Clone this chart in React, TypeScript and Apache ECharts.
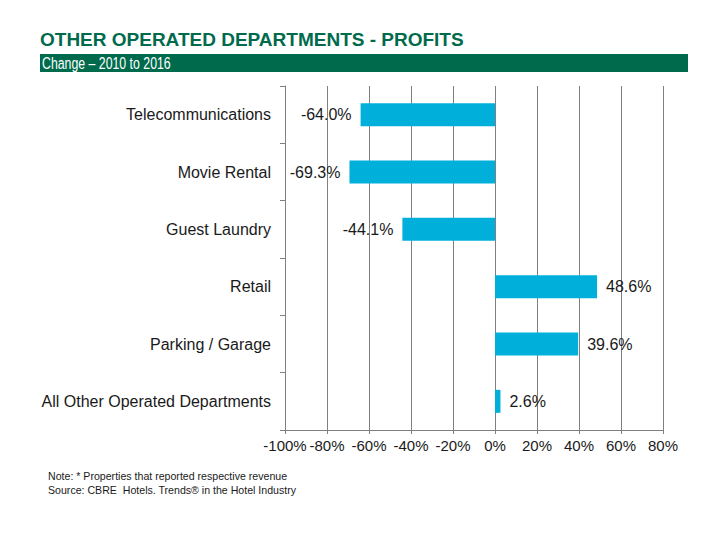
import React, { useEffect, useRef } from "react";
import * as echarts from "echarts";

const categories = [
  "Telecommunications",
  "Movie Rental",
  "Guest Laundry",
  "Retail",
  "Parking / Garage",
  "All Other Operated Departments",
];
const changeValues = [-64.0, -69.3, -44.1, 48.6, 39.6, 2.6];
const xTicks = { min: -100, max: 80, interval: 20 };
const titleText = "OTHER OPERATED DEPARTMENTS - PROFITS";
const subtitleText = "Change \u2013 2010 to 2016";
const noteLines = [
  "Note: * Properties that reported respective revenue",
  "Source: CBRE  Hotels. Trends\u00ae in the Hotel Industry",
];

const GREEN = "#006B4C";
const BAR = "#00B0DB";
const FONT = "'Liberation Sans', Arial, sans-serif";

export default function App() {
  const ref = useRef<HTMLDivElement>(null);
  useEffect(() => {
    if (!ref.current) return;
    const chart = echarts.init(ref.current, undefined, { renderer: "svg" });
    chart.setOption({
      animation: false,
      backgroundColor: "#ffffff",
      textStyle: { fontFamily: FONT },
      grid: { left: 285, right: 57, top: 86, bottom: 110, containLabel: false },
      xAxis: {
        type: "value",
        min: xTicks.min,
        max: xTicks.max,
        interval: xTicks.interval,
        axisLabel: {
          formatter: (v: number) => `${v}%`,
          fontSize: 15,
          color: "#1a1a1a",
          fontFamily: FONT,
          margin: 8,
        },
        axisLine: { show: true, onZero: false, lineStyle: { color: "#808080" } },
        axisTick: { show: true, length: 4, lineStyle: { color: "#808080" } },
        splitLine: { show: true, lineStyle: { color: "#808080", width: 1 } },
      },
      yAxis: [
        {
          type: "category",
          data: categories,
          inverse: true,
          axisLine: { show: false },
          axisTick: { show: false },
          splitLine: { show: false },
          axisLabel: {
            fontSize: 16,
            color: "#1a1a1a",
            fontFamily: FONT,
            margin: 14,
            padding: [0, 0, 3, 0],
          },
        },
        {
          type: "category",
          data: categories,
          inverse: true,
          position: "left",
          axisLine: { show: true, onZero: true, lineStyle: { color: "#808080" } },
          axisTick: { show: true, length: 5, lineStyle: { color: "#808080" } },
          axisLabel: { show: false },
          splitLine: { show: false },
        },
      ],
      series: [
        {
          type: "bar",
          yAxisIndex: 0,
          barWidth: 23,
          itemStyle: { color: BAR },
          data: changeValues.map((v) => ({
            value: v,
            label: {
              show: true,
              position: v < 0 ? "left" : "right",
              distance: 9,
              formatter: () => `${v.toFixed(1)}%`,
              fontSize: 16,
              color: "#1a1a1a",
              fontFamily: FONT,
            },
          })),
        },
      ],
      graphic: [
        {
          type: "text",
          left: 40,
          top: 30,
          style: {
            text: titleText,
            font: `bold 19px ${FONT}`,
            fill: GREEN,
          },
        },
        {
          type: "rect",
          shape: { x: 40, y: 54, width: 648, height: 18 },
          style: { fill: GREEN },
        },
        {
          type: "text",
          x: 42,
          y: 63,
          scaleX: 0.725,
          style: {
            text: subtitleText,
            font: `17px ${FONT}`,
            fill: "#ffffff",
            verticalAlign: "middle",
          },
        },
        {
          type: "text",
          x: 48,
          y: 470,
          style: { text: noteLines[0], font: `10.6px ${FONT}`, fill: "#1a1a1a" },
        },
        {
          type: "text",
          x: 48,
          y: 484,
          style: { text: noteLines[1], font: `10.6px ${FONT}`, fill: "#1a1a1a" },
        },
      ],
    });
    return () => chart.dispose();
  }, []);
  return <div ref={ref} style={{ width: 720, height: 540, position: "absolute", left: 0, top: 0 }} />;
}
